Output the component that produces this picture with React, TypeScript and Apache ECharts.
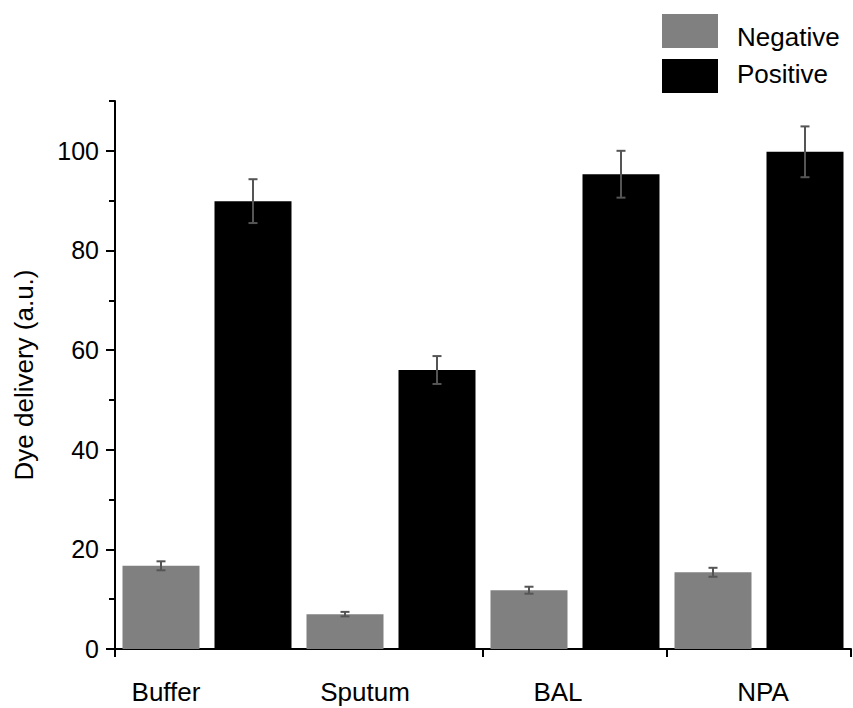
import React, { useEffect, useRef } from "react";
import * as echarts from "echarts";

const categories = ["Buffer", "Sputum", "BAL", "NPA"];
const negativeValues = [16.7, 7.0, 11.8, 15.4];
const negativeErrors = [0.9, 0.45, 0.7, 0.9];
const positiveValues = [89.9, 56.0, 95.3, 99.8];
const positiveErrors = [4.4, 2.8, 4.7, 5.1];
const seriesNames = ["Negative", "Positive"];

const FONT = "'Liberation Sans', Arial, sans-serif";
const BAR_W = 77;
const BAR_GAP_PX = 15;
const labelShift = [-41, -26, -17, 4];

export default function App() {
  const ref = useRef<HTMLDivElement>(null);
  useEffect(() => {
    if (!ref.current) return;
    const chart = echarts.init(ref.current, null, { renderer: "svg" });
    const half = (BAR_W + BAR_GAP_PX) / 2;
    const errSeries = (vals: number[], errs: number[], dx: number) => ({
      type: "custom",
      xAxisIndex: 0,
      yAxisIndex: 0,
      silent: true,
      z: 10,
      data: vals.map((v, i) => [i, v, errs[i]]),
      renderItem: (params: any, api: any) => {
        const x = api.value(0);
        const v = api.value(1);
        const e = api.value(2);
        const top = api.coord([x, v + e]);
        const bot = api.coord([x, v - e]);
        const cx = top[0] + dx;
        const cw = 4.5;
        const st = { stroke: "#555555", lineWidth: 2 };
        return {
          type: "group",
          children: [
            { type: "line", shape: { x1: cx, y1: top[1], x2: cx, y2: bot[1] }, style: st },
            { type: "line", shape: { x1: cx - cw, y1: top[1], x2: cx + cw, y2: top[1] }, style: st },
            { type: "line", shape: { x1: cx - cw, y1: bot[1], x2: cx + cw, y2: bot[1] }, style: st },
          ],
        };
      },
    });
    const rich: any = {};
    labelShift.forEach((s, i) => {
      rich["c" + i] = {
        fontSize: 26,
        fontFamily: FONT,
        color: "#000",
        padding: s < 0 ? [0, -2 * s, 0, 0] : [0, 0, 0, 2 * s],
      };
    });
    chart.setOption({
      animation: false,
      backgroundColor: "#fff",
      textStyle: { fontFamily: FONT },
      grid: { left: 115, right: 2, top: 101, bottom: 59, containLabel: false },
      legend: {
        orient: "vertical",
        left: 657,
        top: 9,
        itemWidth: 56,
        itemHeight: 34,
        itemGap: 9,
        icon: "rect",
        data: seriesNames,
        formatter: (n: string) => (n === "Negative" ? "{a|" + n + "}" : "{b|" + n + "}"),
        textStyle: {
          fontSize: 26,
          color: "#000",
          fontFamily: FONT,
          rich: {
            a: { fontSize: 26, fontFamily: FONT, color: "#000", padding: [12, 0, 0, 14] },
            b: { fontSize: 26, fontFamily: FONT, color: "#000", padding: [0, 0, 4, 14] },
          },
        },
      },
      xAxis: {
        type: "category",
        data: categories,
        boundaryGap: true,
        axisLine: { lineStyle: { color: "#000", width: 2 } },
        axisTick: { show: true, interval: 1, length: 8, lineStyle: { color: "#000", width: 2 } },
        axisLabel: {
          margin: 30,
          color: "#000",
          fontSize: 26,
          fontFamily: FONT,
          interval: 0,
          formatter: (v: string, i: number) => "{c" + i + "|" + v + "}",
          rich,
        },
        splitLine: { show: false },
      },
      yAxis: [
        {
          type: "value",
          min: 0,
          max: 110,
          interval: 10,
          position: "left",
          name: "Dye delivery (a.u.)",
          nameLocation: "middle",
          nameGap: 78,
          nameTextStyle: { fontSize: 26, color: "#000", fontFamily: FONT },
          axisLine: { show: true, lineStyle: { color: "#000", width: 2 } },
          axisTick: { show: true, length: 6, lineStyle: { color: "#000", width: 2 } },
          axisLabel: { show: false },
          splitLine: { show: false },
        },
        {
          type: "value",
          min: 0,
          max: 110,
          interval: 20,
          position: "left",
          axisLine: { show: false },
          axisTick: { show: true, length: 9, lineStyle: { color: "#000", width: 2 } },
          axisLabel: {
            show: true,
            showMaxLabel: false,
            margin: 16,
            fontSize: 25,
            color: "#000",
            fontFamily: FONT,
            formatter: (v: number) => (v > 100 ? "" : String(v)),
          },
          splitLine: { show: false },
        },
      ],
      series: [
        {
          name: "Negative",
          type: "bar",
          data: negativeValues,
          barWidth: BAR_W,
          barGap: (BAR_GAP_PX / BAR_W) * 100 + "%",
          itemStyle: { color: "#808080" },
        },
        {
          name: "Positive",
          type: "bar",
          data: positiveValues,
          barWidth: BAR_W,
          itemStyle: { color: "#000000" },
        },
        errSeries(negativeValues, negativeErrors, -half),
        errSeries(positiveValues, positiveErrors, half),
      ],
    });
    return () => chart.dispose();
  }, []);
  return <div ref={ref} style={{ width: 853, height: 708, position: "absolute", left: 0, top: 0 }} />;
}
